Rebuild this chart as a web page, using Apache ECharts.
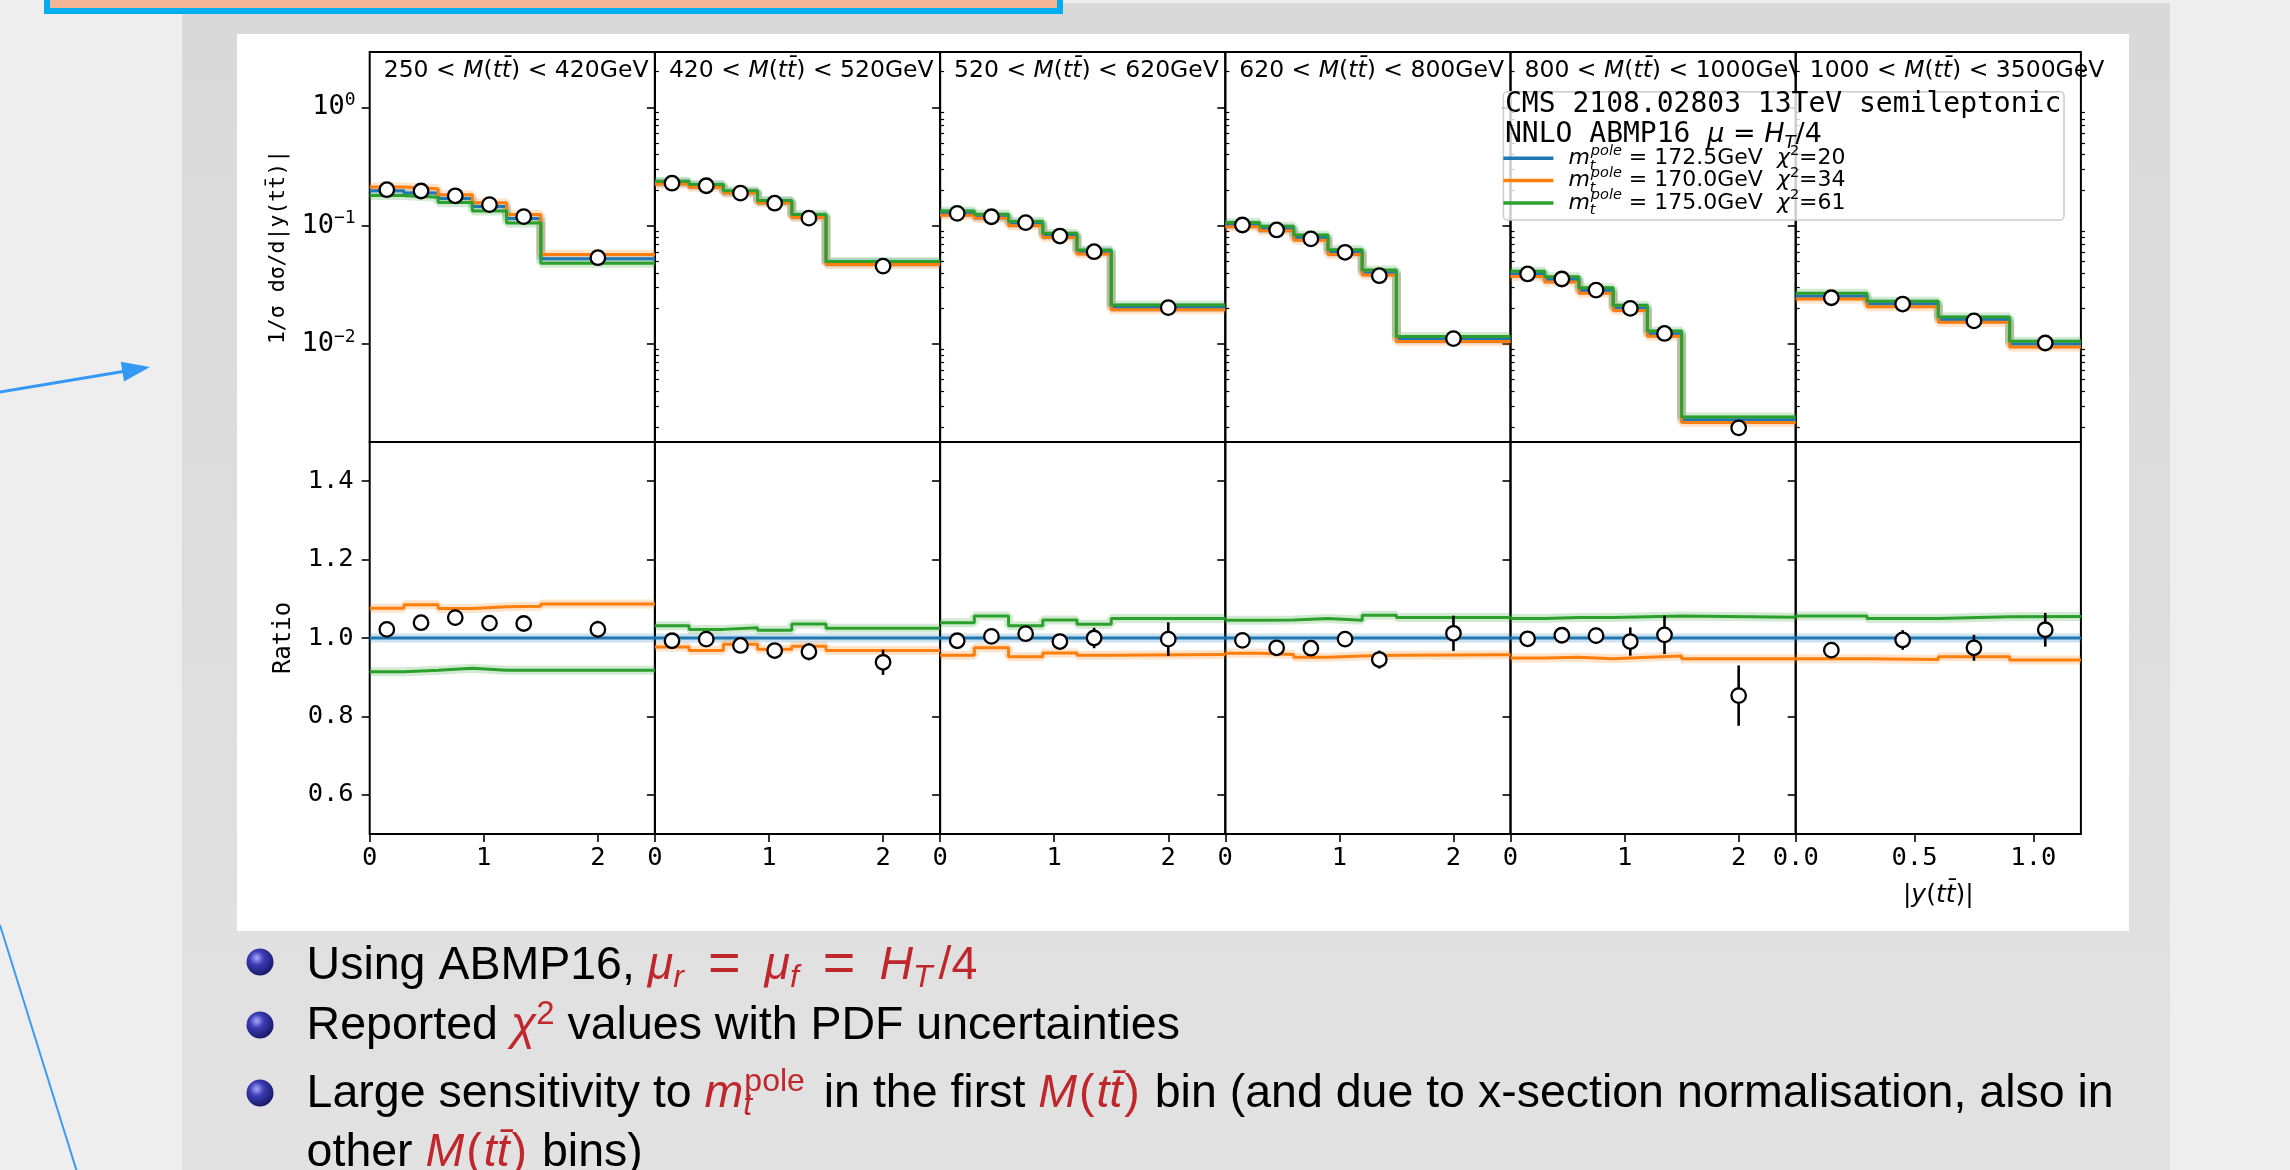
<!DOCTYPE html>
<html>
<head>
<meta charset="utf-8">
<title>Normalised |y(tt̄)| in M(tt̄) bins, NNLO ABMP16</title>
<script src="https://cdn.jsdelivr.net/npm/echarts@6/dist/echarts.min.js"></script>
<style>
html, body { margin: 0; padding: 0; background: #eeeeee; }
#chart { width: 2290px; height: 1170px; }
</style>
</head>
<body>
<div id="chart"></div>
<script>
// ---- data ---------------------------------------------------------------
// |y(tt̄)| bin edges / centres (last mass bin has a shorter range)
const rapEdges = [0, 0.3, 0.6, 0.9, 1.2, 1.5, 2.5];
const rapEdgesHigh = [0, 0.3, 0.6, 0.9, 1.2];
const rapCentres = [0.15, 0.45, 0.75, 1.05, 1.35, 2.0];
const rapCentresHigh = [0.15, 0.45, 0.75, 1.05];

// M(tt̄) bin boundaries [GeV]
const massLow = [250, 420, 520, 620, 800, 1000];
const massHigh = [420, 520, 620, 800, 1000, 3500];

// tick values
const rapTicks = [0, 1, 2];
const rapTicksHigh = [0, 0.5, 1.0];
const ratioTicks = [0.6, 0.8, 1.0, 1.2, 1.4];
const logTicks = [0.01, 0.1, 1];

// legend entries
const poleMass = ['172.5', '170.0', '175.0'];
const chi2 = [20, 34, 61];

// NNLO prediction for m_t = 172.5 GeV, 1/σ dσ/d|y(tt̄)|
const pred1725 = [
  [0.197, 0.189, 0.170, 0.145, 0.115, 0.0525],
  [0.230, 0.218, 0.192, 0.160, 0.120, 0.0486],
  [0.128, 0.1185, 0.105, 0.0825, 0.0603, 0.0204],
  [0.102, 0.0944, 0.0794, 0.0598, 0.040, 0.0110],
  [0.0392, 0.0352, 0.0284, 0.0202, 0.0122, 0.0023],
  [0.0254, 0.0219, 0.0161, 0.0100]
];
// prediction for m_t = 170.0 GeV, relative to 172.5 GeV
const ratio1700 = [
  [1.076, 1.085, 1.075, 1.080, 1.081, 1.087],
  [0.977, 0.968, 0.984, 0.971, 0.979, 0.968],
  [0.956, 0.975, 0.952, 0.962, 0.956, 0.958],
  [0.961, 0.958, 0.951, 0.954, 0.956, 0.957],
  [0.949, 0.951, 0.947, 0.951, 0.954, 0.947],
  [0.947, 0.945, 0.952, 0.944]
];
// prediction for m_t = 175.0 GeV, relative to 172.5 GeV
const ratio1750 = [
  [0.914, 0.918, 0.923, 0.918, 0.918, 0.918],
  [1.031, 1.022, 1.026, 1.020, 1.036, 1.025],
  [1.039, 1.056, 1.031, 1.046, 1.035, 1.050],
  [1.045, 1.046, 1.050, 1.045, 1.058, 1.052],
  [1.050, 1.052, 1.052, 1.054, 1.056, 1.053],
  [1.056, 1.050, 1.054, 1.055]
];
// CMS data relative to the 172.5 GeV prediction, and its uncertainty
const dataRatio = [
  [1.022, 1.039, 1.052, 1.038, 1.037, 1.022],
  [0.993, 0.997, 0.981, 0.968, 0.965, 0.938],
  [0.993, 1.004, 1.011, 0.991, 1.000, 0.997],
  [0.994, 0.975, 0.974, 0.997, 0.945, 1.012],
  [0.998, 1.007, 1.006, 0.991, 1.008, 0.853],
  [0.969, 0.995, 0.975, 1.021]
];
const dataRatioErr = [
  [0.018, 0.017, 0.020, 0.018, 0.017, 0.022],
  [0.012, 0.012, 0.014, 0.014, 0.022, 0.032],
  [0.014, 0.014, 0.018, 0.020, 0.026, 0.043],
  [0.012, 0.012, 0.014, 0.014, 0.023, 0.045],
  [0.014, 0.015, 0.020, 0.036, 0.049, 0.077],
  [0.012, 0.025, 0.033, 0.043]
];

// ---- layout / style -------------------------------------------------------
const PANEL_X0 = 369.7, PANEL_W = 285.2;
const TOP_Y = 52, TOP_H = 390, RAT_Y = 442, RAT_H = 392;
const LOG_MIN = Math.pow(10, -2.827), LOG_MAX = Math.pow(10, 0.467);
const LINE_COLORS = ['#1f77b4', '#ff7f0e', '#2ca02c'];
const MONO = 'DejaVu Sans Mono', SANS = 'DejaVu Sans', SLIDE = 'Liberation Sans';
const RED = '#c0272d';

const minorLogTicks = [];
for (let k = -3; k <= 0; k++) {
  for (let m = 2; m <= 9; m++) {
    const v = m * Math.pow(10, k);
    if (v > LOG_MIN && v < LOG_MAX) minorLogTicks.push(v);
  }
}

const legendNames = poleMass.map(m => 'm_t^pole = ' + m + 'GeV');
const nPanels = massLow.length;

function stepPoints(edges, vals) {
  const pts = vals.map((v, i) => [edges[i], v]);
  pts.push([edges[edges.length - 1], vals[vals.length - 1]]);
  return pts;
}

const tickFont = { fontFamily: MONO, fontSize: 25.5, color: '#000' };
const topGrids = [], ratGrids = [];
const topX = [], ratX = [];
const topY = [], minorY = [], ratY = [];
const series = [];

for (let p = 0; p < nPanels; p++) {
  const left = PANEL_X0 + p * PANEL_W;
  const last = p === nPanels - 1;
  const edges = last ? rapEdgesHigh : rapEdges;
  const centres = last ? rapCentresHigh : rapCentres;
  const xMax = edges[edges.length - 1];
  const first = p === 0;

  topGrids.push({ left, top: TOP_Y, width: PANEL_W, height: TOP_H, show: true,
    borderColor: '#000', borderWidth: 2, backgroundColor: 'transparent', z: 3 });
  ratGrids.push({ left, top: RAT_Y, width: PANEL_W, height: RAT_H, show: true,
    borderColor: '#000', borderWidth: 2, backgroundColor: 'transparent', z: 3 });

  topX.push({ type: 'value', gridIndex: p, min: 0, max: xMax, z: 3,
    axisLine: { show: false }, axisTick: { show: false }, axisLabel: { show: false }, splitLine: { show: false } });
  ratX.push({ type: 'value', gridIndex: nPanels + p, min: 0, max: xMax, z: 3,
    axisLine: { show: false }, splitLine: { show: false },
    axisTick: { show: true, length: 8, lineStyle: { color: '#000', width: 1.6 }, customValues: last ? rapTicksHigh : rapTicks },
    axisLabel: Object.assign({ show: true, margin: 11, customValues: last ? rapTicksHigh : rapTicks,
      formatter: v => last ? v.toFixed(1) : String(v) }, tickFont),
    name: last ? '{v||}{i|y}{v|(}{i|tt̄}{v|)|}' : '', nameLocation: 'middle', nameGap: 49,
    nameTextStyle: { fontFamily: SANS, fontSize: 25, color: '#000',
      rich: { v: { fontFamily: SANS, fontSize: 25, color: '#000' }, i: { fontFamily: SANS, fontStyle: 'italic', fontSize: 25, color: '#000' } } }
  });

  topY.push({ type: 'log', gridIndex: p, min: LOG_MIN, max: LOG_MAX, z: 3,
    axisLine: { show: false }, splitLine: { show: false }, minorTick: { show: false },
    axisTick: { show: true, length: 8, lineStyle: { color: '#000', width: 1.6 }, customValues: logTicks },
    axisLabel: { show: first, margin: 14, customValues: logTicks,
      formatter: v => '{b|10}{e|' + String(Math.round(Math.log10(v))).replace('-', '−') + '}',
      rich: { b: { fontFamily: MONO, fontSize: 27, lineHeight: 32, color: '#000' },
              e: { fontFamily: MONO, fontSize: 18, lineHeight: 20, verticalAlign: 'top', color: '#000' } } },
    name: first ? '1/σ dσ/d|y(tt̄)|' : '', nameLocation: 'middle', nameGap: 80,
    nameTextStyle: { fontFamily: MONO, fontSize: 21.5, color: '#000' }
  });
  minorY.push({ type: 'log', gridIndex: p, min: LOG_MIN, max: LOG_MAX, z: 3,
    axisLine: { show: false }, splitLine: { show: false }, axisLabel: { show: false },
    axisTick: { show: true, length: 4, lineStyle: { color: '#000', width: 1.2 }, customValues: minorLogTicks } });
  ratY.push({ type: 'value', gridIndex: nPanels + p, min: 0.5, max: 1.5, z: 3,
    axisLine: { show: false }, splitLine: { show: false },
    axisTick: { show: true, length: 8, lineStyle: { color: '#000', width: 1.6 }, customValues: ratioTicks },
    axisLabel: Object.assign({ show: first, margin: 16, customValues: ratioTicks, formatter: v => v.toFixed(1) }, tickFont),
    name: first ? 'Ratio' : '', nameLocation: 'middle', nameGap: 74,
    nameTextStyle: { fontFamily: MONO, fontSize: 24, color: '#000' }
  });

  const xTop = p, xRat = nPanels + p;
  const yTop = p, yRat = 2 * nPanels + p;
  const topCurves = [
    pred1725[p],
    pred1725[p].map((v, j) => v * ratio1700[p][j]),
    pred1725[p].map((v, j) => v * ratio1750[p][j])
  ];
  const ratCurves = [
    pred1725[p].map(v => v / v),
    ratio1700[p],
    ratio1750[p]
  ];

  // PDF-uncertainty bands (wide translucent strokes) then central lines
  [[xTop, yTop, topCurves], [xRat, yRat, ratCurves]].forEach(([xi, yi, curves]) => {
    curves.forEach((vals, s) => {
      series.push({ type: 'line', name: 'band ' + s, xAxisIndex: xi, yAxisIndex: yi, step: 'end',
        data: stepPoints(edges, vals), showSymbol: false, silent: true, z: 4, animation: false,
        lineStyle: { color: LINE_COLORS[s], width: 9, opacity: 0.22 }, itemStyle: { color: LINE_COLORS[s] } });
    });
    curves.forEach((vals, s) => {
      series.push({ type: 'line', name: legendNames[s], xAxisIndex: xi, yAxisIndex: yi, step: 'end',
        data: stepPoints(edges, vals), showSymbol: false, z: 4, animation: false,
        lineStyle: { color: LINE_COLORS[s], width: 3 }, itemStyle: { color: LINE_COLORS[s] } });
    });
  });

  // measured points
  series.push({ type: 'custom', name: 'CMS err', xAxisIndex: xRat, yAxisIndex: yRat, z: 5, animation: false,
    data: centres.map((c, j) => [c, dataRatio[p][j], dataRatioErr[p][j]]),
    encode: { x: 0, y: 1 },
    renderItem: (params, api) => {
      const x = api.value(0), y = api.value(1), e = api.value(2);
      const a = api.coord([x, y - e]), b = api.coord([x, y + e]);
      return { type: 'line', shape: { x1: a[0], y1: a[1], x2: b[0], y2: b[1] },
        style: { stroke: '#000', lineWidth: 2.6 } };
    } });
  series.push({ type: 'scatter', name: 'CMS', xAxisIndex: xTop, yAxisIndex: yTop, z: 6, animation: false,
    data: centres.map((c, j) => [c, pred1725[p][j] * dataRatio[p][j]]),
    symbol: 'circle', symbolSize: 14.5, itemStyle: { color: '#fff', borderColor: '#000', borderWidth: 2.3, opacity: 1 } });
  series.push({ type: 'scatter', name: 'CMS', xAxisIndex: xRat, yAxisIndex: yRat, z: 6, animation: false,
    data: centres.map((c, j) => [c, dataRatio[p][j]]),
    symbol: 'circle', symbolSize: 14.5, itemStyle: { color: '#fff', borderColor: '#000', borderWidth: 2.3, opacity: 1 } });
}

// ---- slide decoration and annotations --------------------------------------
const graphics = [];
graphics.push({ type: 'rect', z: 0, silent: true, shape: { x: 182, y: 3, width: 1988, height: 1167 },
  style: { fill: { type: 'linear', x: 0, y: 0, x2: 0, y2: 1,
    colorStops: [{ offset: 0, color: '#d9d9d9' }, { offset: 1, color: '#e2e2e2' }] } } });
graphics.push({ type: 'rect', z: 0, silent: true, shape: { x: 237, y: 34, width: 1892, height: 897 },
  style: { fill: '#ffffff' } });
graphics.push({ type: 'rect', z: 0, silent: true, shape: { x: 47, y: -10, width: 1013, height: 21 },
  style: { fill: '#f4b596', stroke: '#00aef0', lineWidth: 6 } });
graphics.push({ type: 'line', z: 0, silent: true, shape: { x1: 0, y1: 392, x2: 126, y2: 371 },
  style: { stroke: '#3399f5', lineWidth: 3 } });
graphics.push({ type: 'polygon', z: 0, silent: true,
  shape: { points: [[150, 367], [124, 381.5], [120.8, 361.7]] }, style: { fill: '#3399f5' } });
graphics.push({ type: 'line', z: 0, silent: true, shape: { x1: 0, y1: 925, x2: 77, y2: 1172 },
  style: { stroke: '#3a9bf0', lineWidth: 2 } });

// panel headings: each one covers the overhang of its left neighbour
for (let p = 0; p < nPanels; p++) {
  const left = PANEL_X0 + p * PANEL_W;
  graphics.push({ type: 'text', z: 1, silent: true, x: left + 1, y: 71,
    style: { text: massLow[p] + ' < {i|M}({i|tt̄}) < ' + massHigh[p] + 'GeV',
      fontFamily: SANS, fontSize: 23.5, fill: '#000',
      rich: { i: { fontFamily: SANS, fontStyle: 'italic', fontSize: 23.5, fill: '#000' } },
      backgroundColor: p === 0 ? null : '#ffffff', padding: [3, 2, 3, 13],
      align: 'left', verticalAlign: 'middle', textAlign: 'left', textVerticalAlign: 'middle' } });
}

// legend frame and title
graphics.push({ type: 'rect', z: 6, silent: true, shape: { x: 1503.4, y: 91.7, width: 560.6, height: 128.3, r: 4 },
  style: { fill: 'rgba(255,255,255,0.8)', stroke: '#cccccc', lineWidth: 1.5 } });
graphics.push({ type: 'text', z: 9, silent: true, x: 1505, y: 105,
  style: { text: 'CMS 2108.02803 13TeV semileptonic', fontFamily: MONO, fontSize: 28, fill: '#000',
    align: 'left', verticalAlign: 'middle', textAlign: 'left', textVerticalAlign: 'middle' } });
graphics.push({ type: 'text', z: 9, silent: true, x: 1505, y: 135,
  style: { text: 'NNLO ABMP16 {i|μ}{n| = }{i|H}{s|T}{n|/4}', fontFamily: MONO, fontSize: 28, fill: '#000',
    rich: { i: { fontFamily: SANS, fontStyle: 'italic', fontSize: 27, lineHeight: 34, fill: '#000' },
            n: { fontFamily: SANS, fontSize: 27, lineHeight: 34, fill: '#000' },
            s: { fontFamily: SANS, fontStyle: 'italic', fontSize: 18, lineHeight: 18, verticalAlign: 'bottom', fill: '#000' } },
    align: 'left', verticalAlign: 'middle', textAlign: 'left', textVerticalAlign: 'middle' } });

// bullet points under the figure
const bulletY = [962, 1025, 1093];
bulletY.forEach(y => {
  graphics.push({ type: 'circle', z: 0, silent: true, shape: { cx: 260, cy: y, r: 13.5 },
    style: { fill: { type: 'radial', x: 0.38, y: 0.35, r: 0.75,
      colorStops: [{ offset: 0, color: '#a9a9ff' }, { offset: 0.35, color: '#3c3cb4' }, { offset: 1, color: '#111158' }] } } });
});
const FS = 46.5;
const slideRich = {
  r: { fontFamily: SLIDE, fontStyle: 'italic', fontSize: FS, lineHeight: 56, fill: RED },
  ru: { fontFamily: SLIDE, fontSize: FS, lineHeight: 56, fill: RED, padding: [0, 0, 0, 6] },
  eq: { fontFamily: SLIDE, fontSize: FS * 1.2, lineHeight: 56, fill: RED, padding: [0, 24, 0, 24] },
  rsub: { fontFamily: SLIDE, fontStyle: 'italic', fontSize: 32, lineHeight: 32, verticalAlign: 'bottom', fill: RED },
  rsup: { fontFamily: SLIDE, fontSize: 33, lineHeight: 40, verticalAlign: 'top', fill: RED },
  tsub: { fontFamily: SLIDE, fontStyle: 'italic', fontSize: 32, lineHeight: 19, verticalAlign: 'bottom', fill: RED, width: 1 },
  tsup: { fontFamily: SLIDE, fontSize: 32, lineHeight: 18, verticalAlign: 'top', fill: RED, padding: [0, 6, 0, 0] },
  pr: { fontFamily: SLIDE, fontSize: FS, lineHeight: 56, fill: RED, padding: [0, 2, 0, 2] }
};
const slideLines = [
  { y: 966, text: 'Using ABMP16, {r|μ}{rsub|r}{eq|=}{r|μ}{rsub|f}{eq|=}{r|H}{rsub|T}{ru|/4}' },
  { y: 1026, text: 'Reported {r|χ}{rsup|2} values with PDF uncertainties' },
  { y: 1094, text: 'Large sensitivity to {r|m}{tsub|t}{tsup|pole} in the first {r|M}{pr|(}{r|tt̄}{pr|)} bin (and due to x-section normalisation, also in' },
  { y: 1153, text: 'other {r|M}{pr|(}{r|tt̄}{pr|)} bins)' }
];
slideLines.forEach(l => {
  graphics.push({ type: 'text', z: 0, silent: true, x: 306.6, y: l.y,
    style: { text: l.text, fontFamily: SLIDE, fontSize: FS, lineHeight: 56, fill: '#000', rich: slideRich,
      align: 'left', verticalAlign: 'middle', textAlign: 'left', textVerticalAlign: 'middle' } });
});

const legendRich = {
  m: { fontFamily: SANS, fontStyle: 'italic', fontSize: 22, lineHeight: 30, color: '#000', padding: [0, 0, 0, 10] },
  sub: { fontFamily: SANS, fontStyle: 'italic', fontSize: 14.5, lineHeight: 12, verticalAlign: 'bottom', color: '#000', width: 1 },
  sup: { fontFamily: SANS, fontStyle: 'italic', fontSize: 14.5, lineHeight: 12, verticalAlign: 'top', color: '#000' },
  n: { fontFamily: SANS, fontSize: 22, lineHeight: 30, color: '#000' },
  chi: { fontFamily: SANS, fontStyle: 'italic', fontSize: 22, lineHeight: 30, color: '#000' },
  sup2: { fontFamily: SANS, fontSize: 14.5, lineHeight: 12, verticalAlign: 'top', color: '#000' }
};

const option = {
  backgroundColor: '#eeeeee',
  animation: false,
  grid: topGrids.concat(ratGrids),
  xAxis: topX.concat(ratX),
  yAxis: topY.concat(minorY).concat(ratY),
  legend: {
    data: legendNames, orient: 'vertical', left: 1503.4, top: 143.3, padding: 0,
    itemGap: -7.7, itemWidth: 50, itemHeight: 3.5, icon: 'rect', z: 8,
    formatter: name => {
      const s = legendNames.indexOf(name);
      return '{m|m}{sub|t}{sup|pole}{n| = ' + poleMass[s] + 'GeV  }{chi|χ}{sup2|2}{n|=' + chi2[s] + '}';
    },
    textStyle: { fontFamily: SANS, fontSize: 22, color: '#000', rich: legendRich }
  },
  graphic: graphics,
  series
};

const chart = echarts.init(document.getElementById('chart'), null, { renderer: 'canvas' });
chart.setOption(option);
</script>
</body>
</html>
